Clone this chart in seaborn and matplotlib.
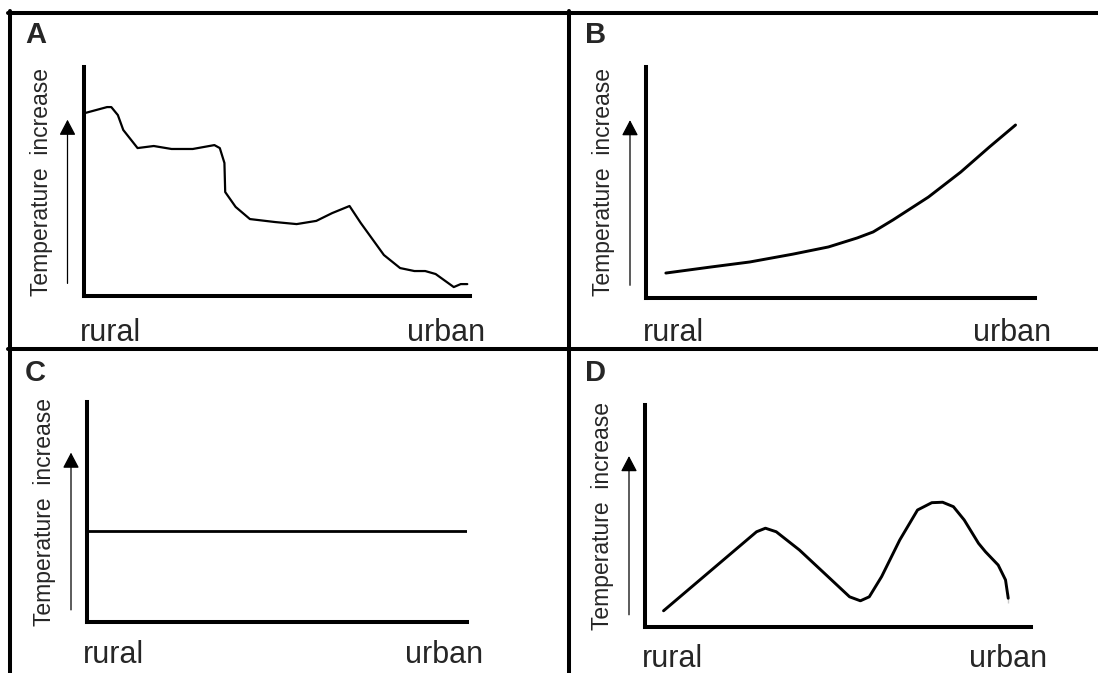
import matplotlib
matplotlib.use('Agg')
import matplotlib.pyplot as plt
import matplotlib.transforms as mtransforms
from matplotlib.lines import Line2D
import seaborn as sns

sns.set_style('white')
plt.rcParams['font.family'] = ['Liberation Sans', 'DejaVu Sans']

W, H = 1098, 673

# distance along the rural -> urban gradient (0-100) and temperature (0-100)
a_dist = [0.4, 6.1, 7.2, 8.9, 10.3, 14.0, 18.2, 22.8, 28.3, 33.9, 35.3, 36.5, 36.7, 39.4,
          43.1, 49.6, 55.2, 60.3, 64.4, 68.9, 71.8, 77.8, 82.0, 85.7, 88.5, 91.2, 95.9, 97.7, 99.4]
a_temp = [79.9, 82.5, 82.5, 79.0, 72.5, 64.6, 65.5, 64.2, 64.2, 65.9, 64.6, 58.1, 45.4, 38.9,
          33.6, 32.3, 31.4, 32.8, 36.2, 39.3, 31.9, 17.9, 12.2, 10.9, 10.9, 9.6, 3.9, 5.2, 5.2]

b_dist = [5.1, 16.6, 26.7, 37.8, 46.9, 54.3, 58.4, 63.5, 72.6, 80.9, 88.3, 95.0]
b_temp = [10.8, 13.4, 15.6, 19.0, 22.1, 26.0, 28.6, 33.8, 43.7, 54.5, 65.4, 74.9]

c_dist = [0, 100]
c_temp = [41.4, 41.4]

d_dist = [4.8, 28.9, 31.2, 34.0, 40.0, 47.4, 53.0, 55.8, 58.1, 61.3, 66.0, 70.6, 74.3,
          77.1, 79.9, 82.7, 86.4, 88.2, 91.5, 93.4, 94.1, 94.1]
d_temp = [7.3, 42.9, 44.5, 42.9, 34.7, 22.7, 13.6, 11.8, 13.6, 22.7, 39.2, 52.7, 56.0,
          56.2, 54.2, 48.2, 37.7, 33.9, 27.9, 21.2, 15.2, 10.7]

panel_letters = ['A', 'B', 'C', 'D']
tick_pos = [7, 94]
tick_labels = ['rural', 'urban']
ylabel = 'Temperature  increase'

# axes boxes in pixels: left, top, right, bottom
boxes = {'A': (83.5, 67, 469.6, 296), 'B': (646, 67, 1035, 298),
         'C': (87, 402, 467, 622), 'D': (645, 405, 1031, 627)}
letter_xy = {'A': (25, 43), 'B': (585, 43), 'C': (25, 381), 'D': (585, 381)}
label_pad = {'A': 15.5, 'B': 14.5, 'C': 13.0, 'D': 12.5}
curve_lw = {'A': 1.6, 'B': 2.1, 'C': 2.0, 'D': 2.1}

series = {'A': (a_dist, a_temp), 'B': (b_dist, b_temp),
          'C': (c_dist, c_temp), 'D': (d_dist, d_temp)}

fig = plt.figure(figsize=(W / 100, H / 100), dpi=100)

for key in panel_letters:
    l, t, r, b = boxes[key]
    ax = fig.add_axes([l / W, 1 - b / H, (r - l) / W, (b - t) / H])
    x, y = series[key]
    sns.lineplot(x=x, y=y, ax=ax, color='black', lw=curve_lw[key], sort=False)
    ax.set_xlim(0, 100)
    ax.set_ylim(0, 100)
    ax.patch.set_visible(False)
    for side in ['top', 'right']:
        ax.spines[side].set_visible(False)
    for side in ['left', 'bottom']:
        ax.spines[side].set_linewidth(2.9)
        ax.spines[side].set_color('black')
    ax.set_yticks([])
    ax.set_xticks(tick_pos)
    ax.set_xticklabels(tick_labels, fontsize=22)
    ax.tick_params(axis='x', length=0, pad=label_pad[key])
    ax.set_ylabel(ylabel, fontsize=16.5, labelpad=22)
    # arrow beside the y axis
    off = mtransforms.offset_copy(ax.transAxes, fig=fig, x=-16, y=0, units='dots')
    ax.annotate('', xy=(0, 0.77), xycoords=off, xytext=(0, 0.055), textcoords=off,
                arrowprops=dict(arrowstyle='-|>,head_length=0.95,head_width=0.5',
                                color='black', lw=0.9, shrinkA=0, shrinkB=0,
                                mutation_scale=10))
    lx, ly = letter_xy[key]
    fig.text(lx / W, 1 - ly / H, key, fontsize=21, fontweight='bold',
             ha='left', va='baseline')

# panel frame lines
frame = [((8, 13), (1098, 13)), ((10, 11), (10, 673)),
         ((568.5, 11), (568.5, 673)), ((8, 349), (1098, 349))]
for (x0, y0), (x1, y1) in frame:
    fig.add_artist(Line2D([x0 / W, x1 / W], [1 - y0 / H, 1 - y1 / H],
                          transform=fig.transFigure, color='black', lw=2.9))

fig.savefig('out.png', dpi=100)
